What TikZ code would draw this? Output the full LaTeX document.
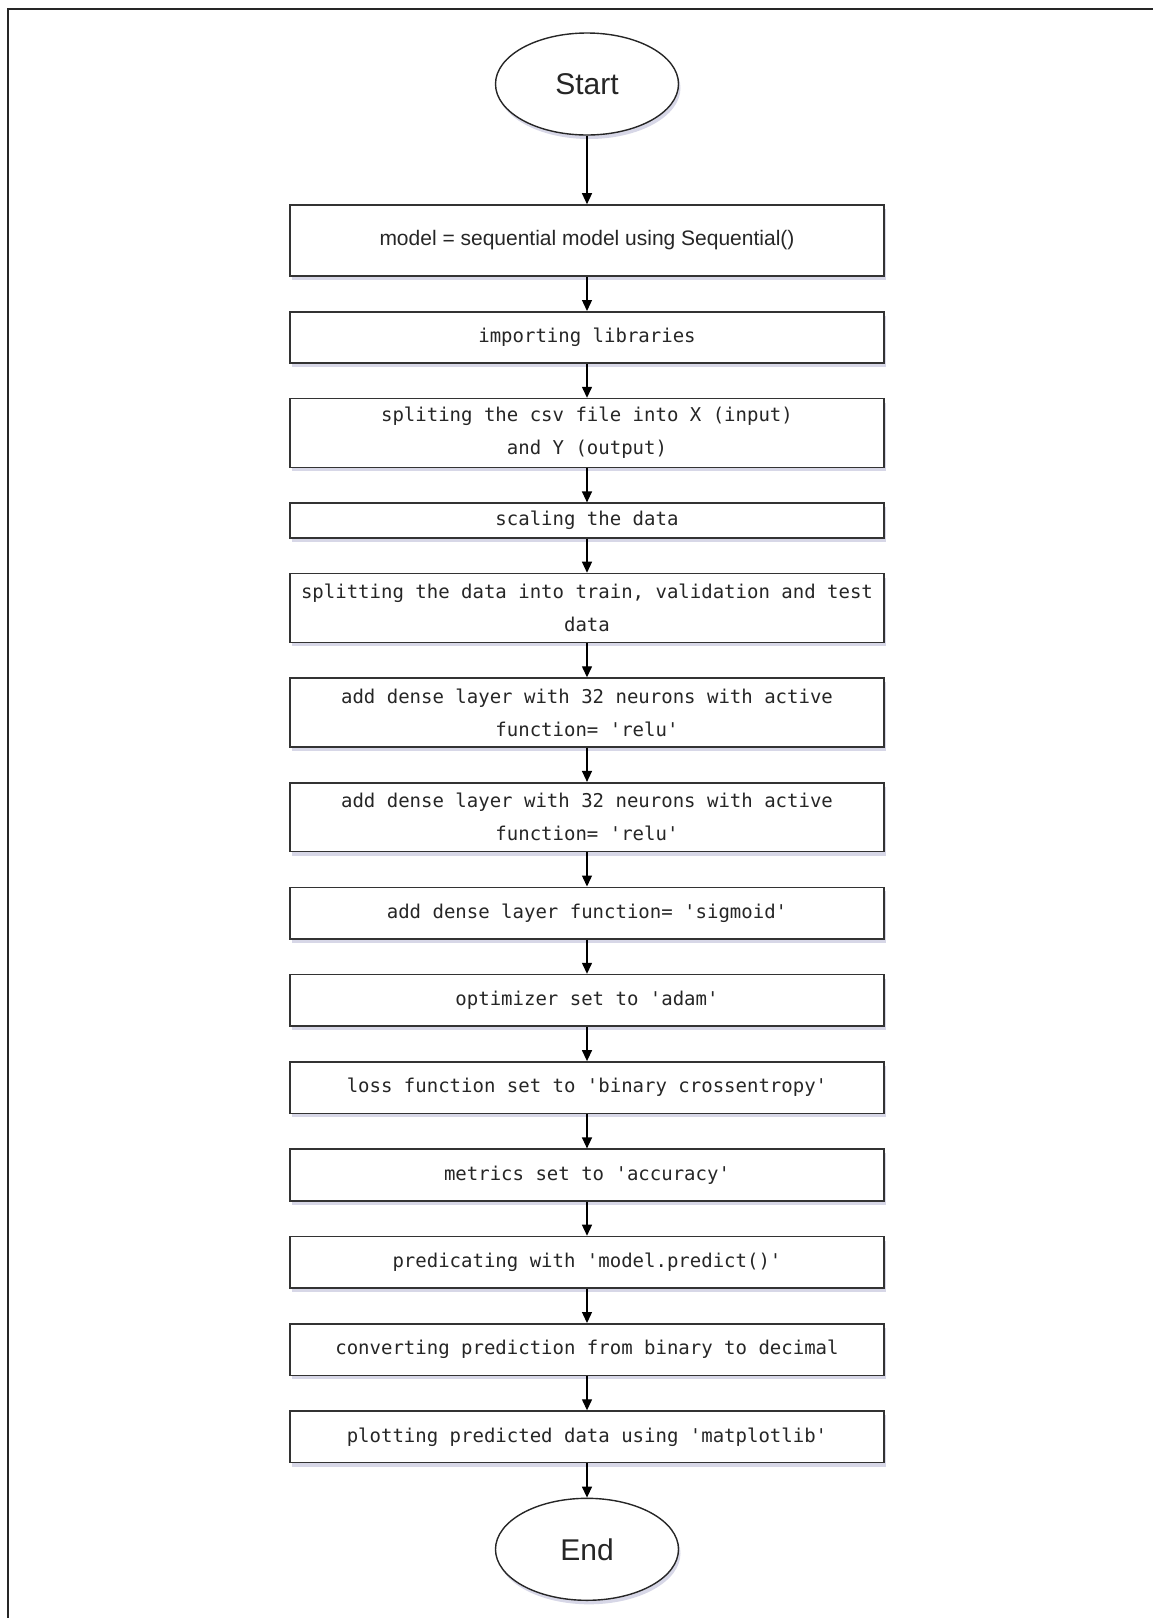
\documentclass[tikz,border=0pt]{standalone}
\usepackage{fontspec}
\setmainfont{Liberation Sans}
\setmonofont{DejaVu Sans Mono}
\usepackage{tikz}
\usetikzlibrary{arrows.meta,positioning,shapes.geometric,shadows}

\newcommand{\monotext}{\fontsize{19}{33}\selectfont\ttfamily}

\begin{document}
\begin{tikzpicture}[
  node distance=34.2pt,
  >={Triangle[width=10pt,length=11pt]},
  shade/.style={drop shadow={shadow xshift=2pt, shadow yshift=-4pt, opacity=.25, fill=blue!25!gray}},
  box/.style={rectangle, draw=black!80, line width=1.6pt, fill=white, shade, align=center, minimum width=594pt, minimum height=51.5pt, inner sep=2pt, font=\monotext, text=black!85},
  tallbox/.style={box, minimum height=68.8pt},
  thinbox/.style={box, minimum height=34.5pt},
  terminal/.style={ellipse, draw=black!85, line width=1.4pt, fill=white, shade, minimum width=183pt, minimum height=102pt, inner sep=0pt, font=\fontsize{30}{30}\selectfont, text=black!85},
]
\useasboundingbox (0,0) rectangle (1153pt,-1618pt);
\draw[line width=1.5pt, black!85] (8pt,-1618pt) -- (8pt,-9pt) -- (1153pt,-9pt);

\node[terminal] (start) at (587pt,-84pt) {Start};
\node[tallbox, below=68.5pt of start, minimum height=71pt, font=\fontsize{21}{25}\selectfont] (model) {model = sequential model using Sequential()};
\node[box, minimum height=51pt, below=of model] (libs) {importing libraries};
\node[tallbox, below=of libs] (csvsplit) {spliting the csv file into X (input)\\and Y (output)};
\node[thinbox, below=of csvsplit] (scaling) {scaling the data};
\node[tallbox, below=of scaling] (datasplit) {splitting the data into train, validation and test\\data};
\node[tallbox, below=of datasplit] (denseA) {add dense layer with 32 neurons with active\\function= 'relu'};
\node[tallbox, below=of denseA] (denseB) {add dense layer with 32 neurons with active\\function= 'relu'};
\node[box, below=of denseB] (sigm) {add dense layer function= 'sigmoid'};
\node[box, below=of sigm] (optim) {optimizer set to 'adam'};
\node[box, below=of optim] (loss) {loss function set to 'binary crossentropy'};
\node[box, below=of loss] (metric) {metrics set to 'accuracy'};
\node[box, below=of metric] (predict) {predicating with 'model.predict()'};
\node[box, below=of predict] (convert) {converting prediction from binary to decimal};
\node[box, below=of convert] (plotting) {plotting predicted data using 'matplotlib'};
\node[terminal, below=of plotting] (finish) {End};

\draw[->, line width=1.3pt] (start) -- (model);
\draw[->, line width=1.3pt] (model) -- (libs);
\draw[->, line width=1.3pt] (libs) -- (csvsplit);
\draw[->, line width=1.3pt] (csvsplit) -- (scaling);
\draw[->, line width=1.3pt] (scaling) -- (datasplit);
\draw[->, line width=1.3pt] (datasplit) -- (denseA);
\draw[->, line width=1.3pt] (denseA) -- (denseB);
\draw[->, line width=1.3pt] (denseB) -- (sigm);
\draw[->, line width=1.3pt] (sigm) -- (optim);
\draw[->, line width=1.3pt] (optim) -- (loss);
\draw[->, line width=1.3pt] (loss) -- (metric);
\draw[->, line width=1.3pt] (metric) -- (predict);
\draw[->, line width=1.3pt] (predict) -- (convert);
\draw[->, line width=1.3pt] (convert) -- (plotting);
\draw[->, line width=1.3pt] (plotting) -- (finish);
\end{tikzpicture}
\end{document}
